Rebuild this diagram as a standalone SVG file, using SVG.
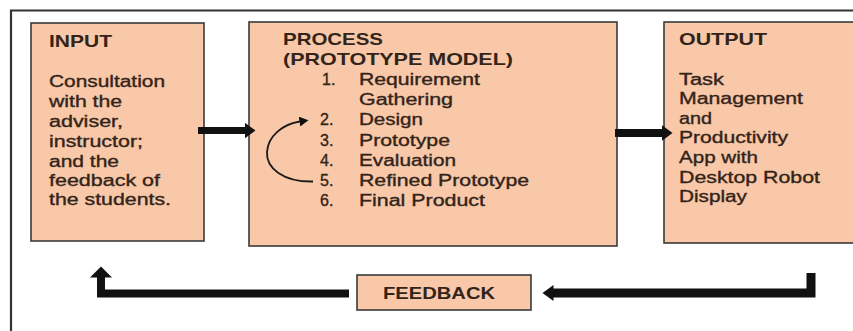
<svg xmlns="http://www.w3.org/2000/svg" width="853" height="331" viewBox="0 0 853 331">
<defs>
<style>
.box{fill:#f8c8a8;stroke:#3a3a3a;stroke-width:1.6}
.frame{fill:none;stroke:#333;stroke-width:2.2}
text{font-family:"Liberation Sans",Arial,sans-serif;fill:#33241a}
.h{font-size:17px;font-weight:bold}
.b{font-size:16px;stroke:#33241a;stroke-width:0.35}
.fb{font-size:17px;font-weight:bold}
.thick{fill:none;stroke:#111;stroke-linejoin:miter}
.thin{fill:none;stroke:#1a1a1a;stroke-width:1.8}
</style>
<marker id="head" markerUnits="userSpaceOnUse" markerWidth="12" markerHeight="16" refX="0.5" refY="8" orient="auto"><path d="M0,0 L11,8 L0,16 z" fill="#111"/></marker>
<marker id="headBig" markerUnits="userSpaceOnUse" markerWidth="12" markerHeight="22" refX="0.5" refY="11" orient="auto"><path d="M0,0 L11,11 L0,22 z" fill="#111"/></marker>
<marker id="headSmall" markerUnits="userSpaceOnUse" markerWidth="10" markerHeight="10" refX="0.5" refY="5" orient="auto"><path d="M0,0 L9,5 L0,10 z" fill="#111"/></marker>
</defs>
<rect width="853" height="331" fill="#ffffff"/>
<path class="frame" d="M11,331 V10.5 H853"/>

<g id="input">
<rect class="box" x="31" y="23" width="173" height="218"/>
<text class="h" x="49" y="47" textLength="63" lengthAdjust="spacingAndGlyphs">INPUT</text>
<text class="b" x="49" y="87" textLength="116" lengthAdjust="spacingAndGlyphs">Consultation</text>
<text class="b" x="49" y="107" textLength="73" lengthAdjust="spacingAndGlyphs">with the</text>
<text class="b" x="49" y="127" textLength="74" lengthAdjust="spacingAndGlyphs">adviser,</text>
<text class="b" x="49" y="147" textLength="94" lengthAdjust="spacingAndGlyphs">instructor;</text>
<text class="b" x="49" y="167" textLength="70" lengthAdjust="spacingAndGlyphs">and the</text>
<text class="b" x="49" y="186" textLength="111" lengthAdjust="spacingAndGlyphs">feedback of</text>
<text class="b" x="49" y="205" textLength="122" lengthAdjust="spacingAndGlyphs">the students.</text>
</g>

<g id="process">
<rect class="box" x="249" y="22" width="368" height="224"/>
<text class="h" x="283" y="45" textLength="100" lengthAdjust="spacingAndGlyphs">PROCESS</text>
<text class="h" x="283" y="65" textLength="230" lengthAdjust="spacingAndGlyphs">(PROTOTYPE MODEL)</text>
<text class="b" x="322" y="85">1.</text>
<text class="b" x="359" y="85" textLength="121" lengthAdjust="spacingAndGlyphs">Requirement</text>
<text class="b" x="359" y="105" textLength="94" lengthAdjust="spacingAndGlyphs">Gathering</text>
<text class="b" x="320" y="125">2.</text>
<text class="b" x="359" y="125" textLength="64" lengthAdjust="spacingAndGlyphs">Design</text>
<text class="b" x="320" y="145.5">3.</text>
<text class="b" x="359" y="145.5" textLength="91" lengthAdjust="spacingAndGlyphs">Prototype</text>
<text class="b" x="320" y="166">4.</text>
<text class="b" x="359" y="166" textLength="97" lengthAdjust="spacingAndGlyphs">Evaluation</text>
<text class="b" x="320" y="186">5.</text>
<text class="b" x="359" y="186" textLength="170" lengthAdjust="spacingAndGlyphs">Refined Prototype</text>
<text class="b" x="320" y="206">6.</text>
<text class="b" x="359" y="206" textLength="126" lengthAdjust="spacingAndGlyphs">Final Product</text>
</g>

<g id="output">
<rect class="box" x="664" y="22" width="200" height="221"/>
<text class="h" x="679" y="45" textLength="88" lengthAdjust="spacingAndGlyphs">OUTPUT</text>
<text class="b" x="679" y="85" textLength="45" lengthAdjust="spacingAndGlyphs">Task</text>
<text class="b" x="679" y="104" textLength="124" lengthAdjust="spacingAndGlyphs">Management</text>
<text class="b" x="679" y="124" textLength="33" lengthAdjust="spacingAndGlyphs">and</text>
<text class="b" x="679" y="143" textLength="109" lengthAdjust="spacingAndGlyphs">Productivity</text>
<text class="b" x="679" y="163" textLength="79" lengthAdjust="spacingAndGlyphs">App with</text>
<text class="b" x="679" y="183" textLength="141" lengthAdjust="spacingAndGlyphs">Desktop Robot</text>
<text class="b" x="679" y="202" textLength="68" lengthAdjust="spacingAndGlyphs">Display</text>
</g>

<g id="feedback">
<rect class="box" x="357" y="275" width="174" height="35"/>
<text class="fb" x="383" y="299" textLength="112" lengthAdjust="spacingAndGlyphs">FEEDBACK</text>
</g>

<g id="connectors">
<path class="thick" d="M198,130.5 H245" stroke-width="7" marker-end="url(#head)"/>
<path class="thick" d="M615,133 H662" stroke-width="8" marker-end="url(#head)"/>
<path class="thick" d="M811,273 V293 H553" stroke-width="9" marker-end="url(#head)"/>
<path class="thick" d="M349,293.5 H101 V277" stroke-width="8" marker-end="url(#headBig)"/>
<path class="thin" d="M313,181.5 C283,182 266,168 267,152 C268,136 283,124 300,121.5" marker-end="url(#headSmall)"/>
</g>
</svg>
